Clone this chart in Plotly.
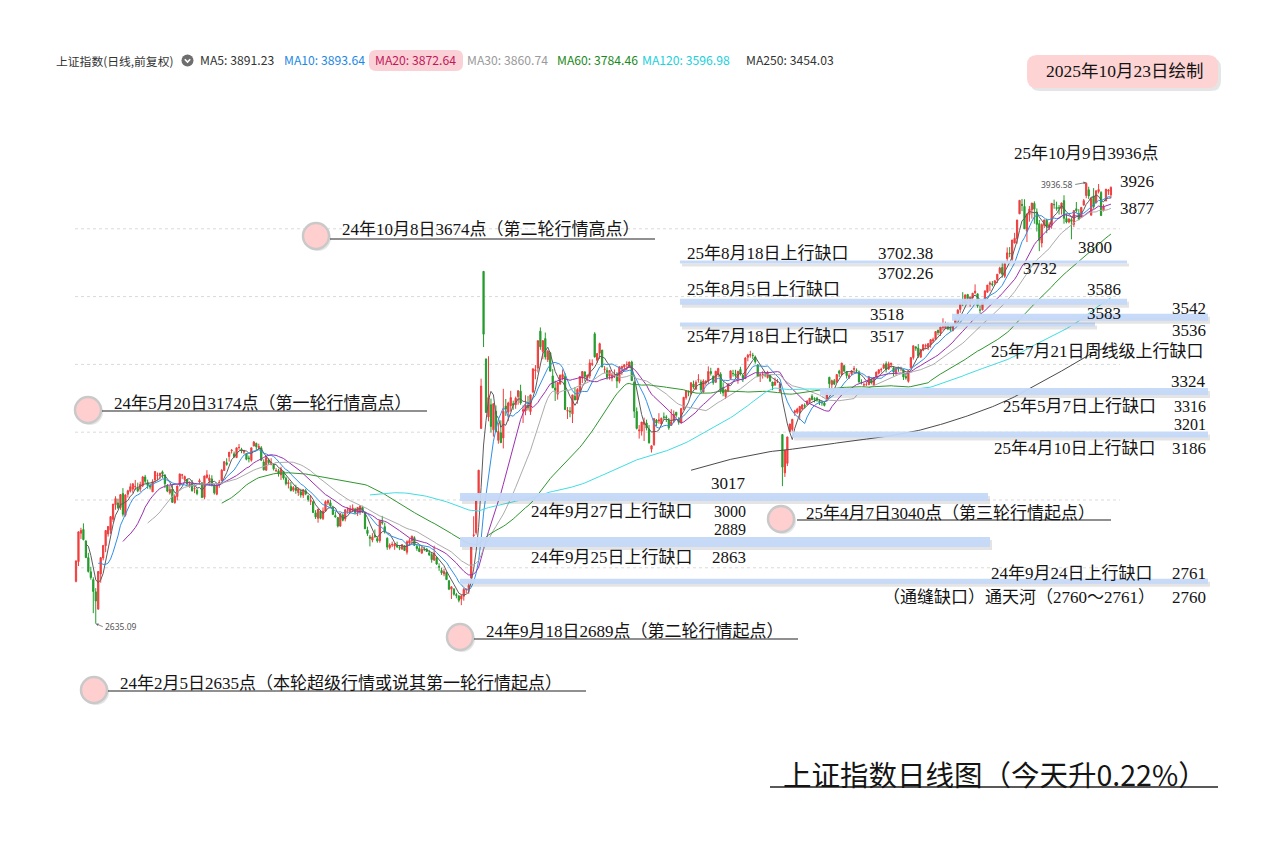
import numpy as np
import pandas as pd
import plotly.graph_objects as go

# ---------------- data: daily (open, high, low, close), Shanghai Composite ----------------
m2401 = [(2760,2822,2757,2820),(2818,2907,2805,2906),(2902,2918,2885,2910),(2913,2931,2881,2883),(2879,2881,2829,2830),(2830,2844,2786,2789)]
m2402 = [(2788,2803,2765,2771),(2765,2772,2666,2730),(2729,2740,2635.09,2702),(2678,2790,2677,2789),(2782,2830,2756,2830),(2829,2866,2822,2866),(2865,2911,2846,2910),(2900,2922,2892,2922),(2911,2951,2900,2951),(2943,2988,2935,2988),(2986,3011,2971,3004),(2991,3004,2973,2977),(2978,3016,2971,3016),(3019,3035,2951,2958),(2955,3017,2951,3015)]
m2403 = [(3017,3030,3007,3027),(3026,3049,3022,3039),(3032,3048,3021,3048),(3039,3059,3029,3040),(3034,3051,3023,3027),(3032,3054,3024,3046),(3042,3071,3038,3068),(3068,3074,3049,3055),(3052,3060,3033,3043),(3043,3048,3031,3038),(3024,3061,3024,3054),(3059,3085,3051,3084),(3072,3081,3058,3073),(3072,3080,3060,3079),(3083,3087,3064,3077),(3074,3075,3035,3048),(3041,3047,3023,3026),(3021,3042,3016,3031),(3032,3046,2992,2993),(2992,3016,2989,3011),(3010,3043,2999,3041)]
m2404 = [(3044,3077,3040,3077),(3073,3077,3062,3074),(3060,3072,3054,3069),(3060,3062,3043,3047),(3044,3055,3036,3048),(3049,3059,3025,3027),(3033,3041,3020,3034),(3029,3034,3014,3019),(3053,3063,3045,3057),(3051,3051,3007,3007),(3008,3071,3002,3071),(3066,3088,3063,3074),(3057,3075,3043,3065),(3062,3073,3040,3045),(3045,3045,3016,3021),(3017,3049,3014,3044),(3044,3059,3036,3052),(3057,3091,3055,3088),(3087,3114,3086,3113),(3110,3123,3101,3105)]
m2405 = [(3128,3141,3113,3141),(3145,3150,3137,3147),(3136,3143,3124,3128),(3125,3154,3125,3154),(3155,3165,3148,3155),(3150,3154,3138,3148),(3141,3148,3135,3145),(3137,3138,3117,3120),(3124,3131,3111,3122),(3117,3154,3113,3154),(3159,3174,3159,3171),(3167,3169,3146,3157),(3154,3166,3147,3158),(3154,3159,3116,3117),(3112,3120,3087,3089),(3088,3126,3086,3125),(3118,3123,3104,3110),(3104,3123,3103,3111),(3105,3109,3087,3092),(3086,3094,3082,3087)]
m2406 = [(3086,3092,3069,3078),(3074,3098,3059,3091),(3084,3086,3060,3065),(3064,3069,3043,3048),(3048,3060,3034,3051),(3040,3053,3025,3028),(3029,3041,3024,3037),(3035,3045,3018,3028),(3022,3035,3012,3033),(3024,3033,3007,3015),(3014,3032,3006,3030),(3027,3033,3014,3018),(3012,3015,2995,3001),(2996,3015,2985,2998),(2995,2998,2962,2963),(2962,2970,2944,2950),(2946,2973,2933,2973),(2967,2970,2943,2946),(2945,2978,2941,2967)]
m2407 = [(2967,2999,2965,2995),(2991,3001,2985,2998),(2992,3001,2980,2982),(2977,2983,2957,2957),(2954,2966,2948,2950),(2948,2950,2919,2923),(2923,2960,2921,2960),(2956,2960,2937,2940),(2944,2973,2937,2971),(2970,2979,2959,2971),(2964,2984,2960,2974),(2970,2987,2966,2976),(2973,2977,2959,2963),(2963,2978,2953,2978),(2964,2985,2956,2982),(2978,2983,2962,2964),(2962,2966,2915,2915),(2911,2921,2894,2901),(2891,2897,2863,2887),(2882,2902,2875,2891),(2896,2913,2889,2891),(2886,2892,2874,2879),(2880,2940,2874,2939)]
m2408 = [(2936,2953,2927,2932),(2921,2933,2901,2905),(2887,2890,2853,2861),(2859,2872,2854,2867),(2867,2877,2861,2869),(2864,2874,2853,2870),(2866,2877,2858,2862),(2860,2866,2852,2858),(2855,2870,2854,2868),(2865,2866,2850,2851),(2846,2881,2839,2877),(2873,2887,2866,2880),(2880,2895,2871,2893),(2889,2893,2866,2866),(2863,2869,2850,2857),(2857,2867,2846,2848),(2843,2862,2843,2855),(2854,2862,2849,2854),(2855,2858,2847,2848),(2844,2853,2835,2838),(2839,2846,2815,2824),(2823,2865,2820,2843)]
m2409 = [(2830,2834,2809,2811),(2804,2813,2791,2802),(2792,2800,2779,2785),(2782,2797,2775,2789),(2786,2789,2764,2765),(2762,2763,2734,2737),(2737,2744,2708,2744),(2737,2740,2718,2722),(2721,2726,2710,2718),(2717,2719,2698,2704),(2708,2720,2689.7,2717),(2716,2741,2703,2736),(2735,2739,2725,2736),(2735,2760,2723,2748),(2770,2863,2761,2863),(2895,2952,2889,2897),(2904,3000,2898,3000),(3017,3088,3017,3088),(3211,3358,3211,3336)]
m2410 = [(3674.4,3674.4,3451,3489),(3416,3417,3258,3258),(3245,3424,3232,3302),(3281,3299,3199,3217),(3207,3284,3187,3284),(3262,3279,3201,3201),(3176,3228,3166,3202),(3198,3235,3169,3169),(3183,3328,3152,3262),(3277,3298,3248,3268),(3259,3290,3233,3286),(3278,3322,3261,3302),(3284,3293,3266,3280),(3281,3305,3269,3300),(3305,3324,3281,3322),(3321,3340,3281,3286),(3262,3279,3227,3266),(3263,3309,3250,3280)]
m2411 = [(3280,3307,3264,3272),(3261,3311,3251,3310),(3318,3387,3318,3387),(3381,3398,3356,3384),(3389,3470,3376,3470),(3498,3509,3443,3452),(3438,3471,3415,3470),(3476,3494,3414,3422),(3414,3442,3407,3439),(3434,3437,3380,3380),(3366,3386,3330,3331),(3330,3352,3292,3324),(3312,3347,3296,3347),(3343,3370,3339,3368),(3361,3385,3353,3370),(3364,3374,3265,3267),(3262,3274,3239,3264),(3262,3274,3244,3260),(3254,3310,3227,3310),(3306,3333,3295,3295),(3295,3330,3284,3326)]
m2412 = [(3320,3365,3320,3364),(3360,3380,3345,3379),(3378,3378,3350,3364),(3360,3370,3350,3368),(3366,3415,3358,3404),(3400,3415,3395,3402),(3490,3495,3420,3422),(3412,3432,3404,3432),(3433,3464,3416,3461),(3442,3443,3392,3392),(3385,3395,3374,3386),(3382,3391,3355,3362),(3366,3383,3355,3382),(3360,3375,3350,3370),(3365,3385,3360,3368),(3371,3377,3330,3351),(3350,3393,3344,3393),(3388,3396,3369,3394),(3392,3400,3383,3399),(3400,3409,3383,3400),(3394,3408,3389,3407),(3407,3411,3351,3352)]
m2501 = [(3347,3352,3242,3262),(3261,3273,3208,3211),(3204,3221,3181,3206),(3203,3230,3190,3230),(3223,3243,3174,3230),(3227,3237,3205,3212),(3209,3221,3166,3169),(3150,3160,3140,3160),(3163,3241,3160,3240),(3236,3239,3218,3227),(3233,3256,3225,3236),(3224,3243,3220,3241),(3245,3258,3237,3244),(3245,3250,3230,3243),(3235,3242,3207,3213),(3220,3268,3220,3231),(3233,3264,3227,3253),(3259,3259,3243,3250)]
m2502 = [(3236,3244,3222,3229),(3230,3270,3224,3270),(3270,3303,3265,3303),(3302,3324,3296,3322),(3320,3323,3306,3318),(3314,3346,3309,3346),(3342,3352,3328,3333),(3327,3353,3325,3347),(3354,3371,3346,3355),(3348,3355,3318,3325),(3318,3356,3317,3351),(3346,3354,3337,3350),(3351,3394,3342,3379),(3379,3390,3367,3373),(3365,3367,3340,3346),(3347,3380,3347,3380),(3370,3390,3363,3388),(3371,3377,3313,3321)]
m2503 = [(3331,3347,3306,3316),(3305,3325,3298,3325),(3321,3345,3318,3342),(3358,3382,3355,3381),(3373,3384,3364,3373),(3372,3384,3361,3367),(3357,3380,3343,3380),(3385,3393,3367,3372),(3368,3369,3348,3359),(3358,3421,3358,3419),(3421,3431,3409,3427),(3427,3440,3420,3429),(3427,3434,3416,3426),(3422,3426,3402,3408),(3399,3400,3364,3364),(3366,3374,3348,3370),(3368,3380,3358,3370),(3368,3378,3362,3368),(3361,3381,3358,3374),(3368,3369,3348,3351),(3348,3348,3324,3336)]
m2504 = [(3339,3361,3337,3348),(3350,3357,3345,3350),(3321,3346,3316,3342),(3193,3193,3040.69,3097),(3080,3148,3068,3146),(3108,3186,3100,3186),(3202,3225,3201,3224),(3208,3239,3202,3238),(3258,3266,3248,3263),(3259,3272,3254,3268),(3258,3277,3236,3276),(3268,3283,3268,3280),(3279,3285,3270,3277),(3282,3295,3280,3291),(3290,3300,3283,3300),(3306,3312,3294,3296),(3299,3303,3288,3297),(3300,3304,3290,3295),(3291,3297,3280,3288),(3287,3292,3278,3287),(3286,3290,3276,3279)]
m2505 = [(3292,3316,3292,3316),(3362,3363,3325,3343),(3340,3355,3330,3352),(3352,3357,3339,3342),(3349,3371,3345,3370),(3380,3384,3363,3374),(3370,3404,3365,3404),(3396,3398,3379,3380),(3378,3378,3358,3367),(3361,3374,3357,3367),(3372,3383,3368,3381),(3385,3395,3377,3388),(3382,3388,3375,3381),(3378,3382,3346,3348),(3347,3356,3341,3346),(3339,3346,3334,3340),(3340,3348,3337,3340),(3340,3366,3340,3363),(3357,3358,3341,3347)]
m2506 = [(3339,3362,3338,3361),(3363,3379,3359,3377),(3374,3385,3370,3384),(3384,3390,3376,3385),(3389,3403,3386,3399),(3402,3409,3376,3385),(3386,3408,3384,3402),(3400,3405,3390,3403),(3390,3395,3365,3377),(3375,3390,3367,3388),(3389,3393,3378,3387),(3387,3393,3380,3388),(3384,3385,3354,3363),(3364,3373,3355,3360),(3350,3382,3346,3382),(3390,3420,3390,3420),(3420,3455,3414,3455),(3451,3454,3440,3448),(3448,3460,3419,3425),(3421,3445,3421,3444)]
m2507 = [(3442,3459,3439,3458),(3454,3461,3445,3455),(3451,3463,3442,3461),(3458,3474,3449,3473),(3469,3479,3463,3473),(3474,3497,3473,3497),(3501,3501,3486,3494),(3492,3510,3484,3510),(3510,3536,3500,3510),(3506,3526,3506,3520),(3520,3523,3501,3505),(3505,3516,3497,3504),(3500,3517,3497,3516),(3520,3536,3518,3534),(3545,3563,3542,3560),(3562,3582,3552,3582),(3583,3613,3572,3582),(3580,3606,3577,3605),(3606,3608,3588,3594),(3585,3600,3570,3598),(3596,3610,3585,3610),(3611,3636,3608,3616),(3608,3609,3567,3573)]
m2508 = [(3560,3574,3550,3560),(3561,3583,3559,3583),(3588,3617,3586,3617),(3613,3634,3612,3634),(3636,3645,3616,3640),(3638,3646,3630,3635),(3640,3647,3634,3647),(3650,3666,3640,3666),(3670,3688,3666,3684),(3686,3702,3656,3666),(3660,3702.26,3655,3697),(3712,3745,3702.38,3729),(3728,3746,3716,3727),(3710,3767,3705,3767),(3758,3788,3757,3772),(3771,3826,3756,3826),(3844,3884,3844,3884),(3872,3888,3852,3869),(3866,3887,3800,3800),(3793,3845,3761,3843),(3842,3867,3821,3858)]
m2509 = [(3856,3876,3830,3876),(3875,3881,3815,3858),(3849,3860,3792,3813),(3815,3826,3734,3766),(3758,3816,3745,3812),(3810,3827,3802,3826),(3825,3830,3787,3807),(3806,3819,3796,3812),(3810,3876,3800,3875),(3872,3886,3859,3871),(3863,3880,3853,3860),(3862,3870,3842,3861),(3859,3877,3842,3876),(3883,3899,3815,3831),(3830,3845,3816,3820),(3820,3831,3816,3829),(3827,3834,3769,3822),(3813,3854,3805,3854),(3859,3879,3848,3853),(3845,3858,3825,3828),(3833,3864,3833,3863),(3870,3888,3868,3883)]
m2510 = [(3898,3936.58,3890,3934),(3915,3924,3888,3897),(3840,3893,3840,3889),(3897,3920,3859,3865),(3876,3913,3876,3912),(3910,3932,3904,3916),(3907,3911,3838,3839),(3855,3872,3851,3864),(3882,3917,3882,3917),(3911,3917,3900,3914),(3900,3925,3890,3922)]

ma_periods = [5, 10, 20, 30, 60, 120, 250]
ma_header = ["MA5: 3891.23", "MA10: 3893.64", "MA20: 3872.64", "MA30: 3860.74",
             "MA60: 3784.46", "MA120: 3596.98", "MA250: 3454.03"]
grid_levels = [2800, 3000, 3200, 3400, 3600, 3800]

# upward gaps (low edge, high edge)
gap_lo = [3702.26, 3583, 3517, 3536, 3316, 3186, 3000, 2863, 2760]
gap_hi = [3702.38, 3586, 3518, 3542, 3324, 3201, 3017, 2889, 2761]

# ---------------- styles / layout positions (pixels) ----------------
W, H = 1273, 844
X0_PX, DX_PX = 76.0, 2.470          # candle spacing
Y_REF_P, Y_REF_PX, PX_PER_PT = 3702.0, 262.0, 0.339

gap_style = [(680, 1127, 3), (680, 1127, 6), (680, 1095, 4), (952, 1208, 7), (820, 1208, 7),
             (792, 1208, 6), (460, 988, 8), (460, 990, 10), (460, 1208, 5)]

SERIF = "Liberation Serif, Noto Sans CJK SC, serif"
SANS = "Noto Sans CJK SC, Noto Sans, sans-serif"

months = [m2401, m2402, m2403, m2404, m2405, m2406, m2407, m2408, m2409, m2410, m2411, m2412,
          m2501, m2502, m2503, m2504, m2505, m2506, m2507, m2508, m2509, m2510]
rows = [r for m in months for r in m]
o = np.array([r[0] for r in rows], float)
h = np.array([r[1] for r in rows], float)
l = np.array([r[2] for r in rows], float)
c = np.array([r[3] for r in rows], float)
n = len(c)
x = np.arange(n)

fig = go.Figure()
fig.add_trace(go.Candlestick(
    x=x, open=o, high=h, low=l, close=c,
    increasing=dict(line=dict(color="#ef3e3e", width=1), fillcolor="#ef3e3e"),
    decreasing=dict(line=dict(color="#249b2c", width=1), fillcolor="#249b2c"),
    whiskerwidth=0, showlegend=False, hoverinfo="skip"))

ma_colors = {5: "#5c5c5c", 10: "#2f8fe8", 20: "#9c2fb0", 30: "#ababab",
             60: "#2f962f", 120: "#3fdde3", 250: "#4a4a4a"}
cs = pd.Series(c)
for p in ma_periods:
    fig.add_trace(go.Scatter(x=x, y=cs.rolling(p).mean(), mode="lines",
                             line=dict(color=ma_colors[p], width=1),
                             showlegend=False, hoverinfo="skip"))

def PX(xp):
    return xp / W

def PY(yp):
    return 1 - yp / H

shapes = []
annos = []

# dotted grid
for g in grid_levels:
    shapes.append(dict(type="line", xref="paper", yref="y", x0=PX(75), x1=PX(1120), y0=g, y1=g,
                       line=dict(color="#dadada", width=1, dash="dot"), layer="below"))

# gap bands (with soft shadow)
for lo, hi, (xa, xb, t) in zip(gap_lo, gap_hi, gap_style):
    mid = (lo + hi) / 2
    shapes.append(dict(type="rect", xref="paper", yref="y", ysizemode="pixel", yanchor=mid,
                       x0=PX(xa + 2), x1=PX(xb + 2), y0=-t / 2 - 3, y1=t / 2 - 3,
                       fillcolor="rgba(90,90,90,0.16)", line=dict(width=0), layer="above"))
    shapes.append(dict(type="rect", xref="paper", yref="y", ysizemode="pixel", yanchor=mid,
                       x0=PX(xa), x1=PX(xb), y0=-t / 2, y1=t / 2,
                       fillcolor="rgba(196,216,248,0.95)", line=dict(width=0), layer="above"))

def rounded(x0, y0, x1, y1, r):
    pts = (f"M {PX(x0 + r)},{PY(y0)} L {PX(x1 - r)},{PY(y0)} Q {PX(x1)},{PY(y0)} {PX(x1)},{PY(y0 + r)} "
           f"L {PX(x1)},{PY(y1 - r)} Q {PX(x1)},{PY(y1)} {PX(x1 - r)},{PY(y1)} "
           f"L {PX(x0 + r)},{PY(y1)} Q {PX(x0)},{PY(y1)} {PX(x0)},{PY(y1 - r)} "
           f"L {PX(x0)},{PY(y0 + r)} Q {PX(x0)},{PY(y0)} {PX(x0 + r)},{PY(y0)} Z")
    return pts

def text(t, xp, yp, size=17, anchor="left", color="#141414", family=SERIF):
    annos.append(dict(text=t, x=PX(xp), y=PY(yp), xref="paper", yref="paper", showarrow=False,
                      xanchor=anchor, yanchor="middle", font=dict(family=family, size=size, color=color)))

# header
shapes.append(dict(type="path", xref="paper", yref="paper", path=rounded(369, 50, 463, 71, 7),
                   fillcolor="#fad1d6", line=dict(width=0)))
shapes.append(dict(type="circle", xref="paper", yref="paper", x0=PX(181.5), x1=PX(193.5),
                   y0=PY(66.5), y1=PY(54.5), fillcolor="#6e6e6e", line=dict(width=0)))
shapes.append(dict(type="path", xref="paper", yref="paper",
                   path=f"M {PX(184.8)},{PY(59.2)} L {PX(187.5)},{PY(62)} L {PX(190.2)},{PY(59.2)}",
                   line=dict(color="white", width=1.6)))
hdr_x = [198, 282, 373, 465, 555, 640, 744]
hdr_c = ["#333333", "#1e88e5", "#c2185b", "#9a9a9a", "#1b8a1b", "#22cfdc", "#333333"]
text("上证指数(日线,前复权)", 54, 60.5, 11.8, color="#333333", family=SANS)
for t, xp, col in zip(ma_header, hdr_x, hdr_c):
    text(t, xp, 60.5, 12.2, color=col, family=SANS)

# date box
shapes.append(dict(type="path", xref="paper", yref="paper", path=rounded(1030, 58, 1221, 91, 10),
                   fillcolor="rgba(0,0,0,0.10)", line=dict(width=0)))
shapes.append(dict(type="path", xref="paper", yref="paper", path=rounded(1027, 55, 1218, 88, 10),
                   fillcolor="#fdd3d3", line=dict(width=0)))
text("2025年10月23日绘制", 1125, 71.5, 17.5, anchor="center")

# circled milestone notes
notes = [("24年10月8日3674点（第二轮行情高点）", 316, 236, 340, 230, 330, 655, 239),
         ("24年5月20日3174点（第一轮行情高点）", 88, 410, 112, 404, 102, 427, 411),
         ("24年9月18日2689点（第二轮行情起点）", 460, 637, 484, 631, 474, 798, 639),
         ("24年2月5日2635点（本轮超级行情或说其第一轮行情起点）", 94, 690, 118, 683, 108, 586, 691),
         ("25年4月7日3040点（第三轮行情起点）", 781, 519, 804, 513, 797, 1111, 520)]
for t, cx, cy, tx, ty, ux0, ux1, uy in notes:
    r = 13
    shapes.append(dict(type="circle", xref="paper", yref="paper", x0=PX(cx - r + 2), x1=PX(cx + r + 2),
                       y0=PY(cy + r + 2), y1=PY(cy - r + 2), fillcolor="rgba(0,0,0,0.10)", line=dict(width=0)))
    shapes.append(dict(type="circle", xref="paper", yref="paper", x0=PX(cx - r), x1=PX(cx + r),
                       y0=PY(cy + r), y1=PY(cy - r), fillcolor="#ffcfcf", line=dict(color="#c9c9c9", width=2.5)))
    shapes.append(dict(type="line", xref="paper", yref="paper", x0=PX(ux0), x1=PX(ux1), y0=PY(uy), y1=PY(uy),
                       line=dict(color="#222222", width=1.2)))
    text(t, tx, ty, 17)

# gap labels & levels
text("25年10月9日3936点", 1012, 154)
text("3926", 1118, 182)
text("3877", 1118, 208)
text("3800", 1076, 247)
text("3732", 1021, 268)
text("25年8月18日上行缺口", 685, 253)
text("3702.38", 876, 253)
text("3702.26", 876, 273)
text("25年8月5日上行缺口", 685, 289)
text("3586", 1085, 289)
text("3583", 1085, 313)
text("3518", 868, 314)
text("25年7月18日上行缺口", 685, 337)
text("3517", 868, 337)
text("3542", 1208, 308, anchor="right")
text("3536", 1208, 330, anchor="right")
text("25年7月21日周线级上行缺口", 1206, 351, anchor="right")
text("3324", 1208, 381, anchor="right")
text("25年5月7日上行缺口", 1158, 406, anchor="right")
text("3316", 1208, 406, 16, anchor="right")
text("3201", 1208, 424, 16, anchor="right")
text("25年4月10日上行缺口", 1158, 448, anchor="right")
text("3186", 1208, 448, anchor="right")
text("3017", 748, 483, anchor="right")
text("24年9月27日上行缺口", 695, 511, anchor="right")
text("3000", 748, 511, 16, anchor="right")
text("2889", 748, 529, 16, anchor="right")
text("24年9月25日上行缺口", 695, 557, anchor="right")
text("2863", 748, 557, anchor="right")
text("24年9月24日上行缺口", 1155, 573, anchor="right")
text("2761", 1208, 573, anchor="right")
text("（通缝缺口）通天河（2760～2761）", 1157, 597, anchor="right")
text("2760", 1208, 597, anchor="right")

# bottom title
text("上证指数日线图（今天升0.22%）", 995, 773, 28.5, anchor="center", family=SANS)
shapes.append(dict(type="line", xref="paper", yref="paper", x0=PX(770), x1=PX(1218), y0=PY(787), y1=PY(787),
                   line=dict(color="#222222", width=1.5)))

# extreme price tags
i_lo = int(np.argmin(l))
i_hi = int(np.argmax(h))
annos.append(dict(x=i_lo, y=l[i_lo], xref="x", yref="y", text=f"{l[i_lo]:.2f}", showarrow=True,
                  ax=7, ay=3, xanchor="left", arrowhead=2, arrowsize=0.7, arrowwidth=0.8, arrowcolor="#666",
                  font=dict(family="Noto Sans", size=8.5, color="#555")))
annos.append(dict(x=i_hi, y=h[i_hi], xref="x", yref="y", text=f"{h[i_hi]:.2f}", showarrow=True,
                  ax=-11, ay=2, xanchor="right", arrowhead=2, arrowsize=0.7, arrowwidth=0.8, arrowcolor="#666",
                  font=dict(family="Noto Sans", size=8.5, color="#555")))

x_lo = -X0_PX / DX_PX
x_hi = (W - X0_PX) / DX_PX
y_hi = Y_REF_P + Y_REF_PX / PX_PER_PT
y_lo = Y_REF_P - (H - Y_REF_PX) / PX_PER_PT

fig.update_layout(
    width=W, height=H, margin=dict(l=0, r=0, t=0, b=0),
    paper_bgcolor="#ffffff", plot_bgcolor="#ffffff",
    xaxis=dict(range=[x_lo, x_hi], visible=False, rangeslider=dict(visible=False), fixedrange=True),
    yaxis=dict(range=[y_lo, y_hi], visible=False, fixedrange=True),
    shapes=shapes, annotations=annos, showlegend=False, hovermode=False,
)

fig.write_html("out.html", config={"displayModeBar": False},
               post_script="document.body.style.margin='0';document.body.style.overflow='hidden';")
